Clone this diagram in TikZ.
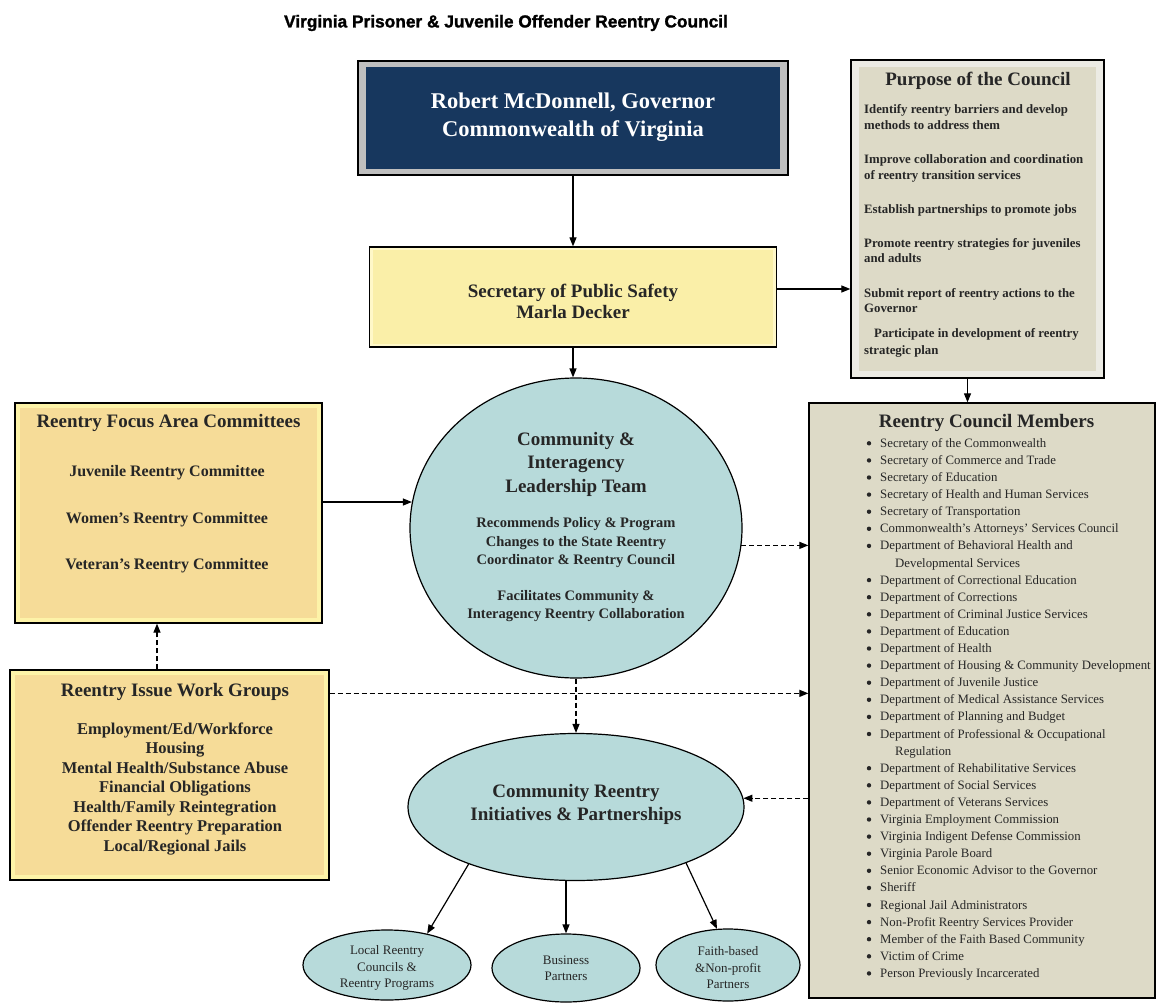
\documentclass[tikz,border=0pt]{standalone}
\usepackage{fontspec}
\setmainfont{Liberation Serif}
\newfontfamily\titlefont{Liberation Sans Bold}[FakeBold=1.5]
\usetikzlibrary{arrows.meta,shapes.geometric,calc}
\definecolor{navy}{HTML}{17375E}
\definecolor{govgray}{HTML}{BFBFBF}
\definecolor{secfill}{HTML}{FAEFA8}
\definecolor{secstrip}{HTML}{FFF8C8}
\definecolor{tanfill}{HTML}{F6DC98}
\definecolor{tanstrip}{HTML}{FDF3A8}
\definecolor{tealfill}{HTML}{B7DADA}
\definecolor{beige}{HTML}{DDDAC7}
\definecolor{beigestrip}{HTML}{ECEBE4}
\definecolor{txt}{HTML}{262626}
\newcommand\myfs[2]{\fontsize{#1}{#2}\selectfont}
\begin{document}
\begin{tikzpicture}[x=1pt,y=-1pt,
  box/.style={draw=black, line width=1.3pt, inner sep=0pt, rectangle},
  oval/.style={ellipse, draw=black, line width=1.2pt, fill=tealfill, inner sep=0pt},
  arr/.style={line width=1.2pt, -{Triangle[length=9pt,width=7pt]}},
  darr/.style={arr, dash pattern=on 5pt off 3pt},
  govtxt/.style={text=white, font=\myfs{22.5}{28}\bfseries, align=center, inner sep=0pt},
  headtxt/.style={text=txt, font=\myfs{19}{23.5}\bfseries, align=center, inner sep=0pt},
  subtxt/.style={text=txt, font=\myfs{16}{19.5}\bfseries, align=center, inner sep=0pt},
  bodytxt/.style={text=txt, font=\myfs{14.5}{18.5}\bfseries, align=center, inner sep=0pt},
  ptxt/.style={text=txt, font=\myfs{12.8}{16}\bfseries, inner sep=0pt, anchor=base west},
  mtxt/.style={text=txt, font=\myfs{12.8}{16}, inner sep=0pt, anchor=base west},
  smalltxt/.style={text=txt, font=\myfs{13}{16.5}, align=center, inner sep=0pt},
  bul/.style={circle, fill=txt, inner sep=0pt, minimum size=4.4pt}
]
\useasboundingbox (0,0) rectangle (1156,1003);
\fill[white] (0,0) rectangle (1156,1003);

% title
\node[font=\titlefont\myfs{17.3}{20}, inner sep=0pt] (title) at (506,23)
  {Virginia Prisoner \& Juvenile Offender Reentry Council};

% governor
\node[box, fill=govgray, minimum width=430, minimum height=114] (gov) at (573,118) {};
\fill[navy] ($(gov.north west)+(9,7)$) rectangle ($(gov.south east)+(-9,-7)$);
\node[govtxt] (govt) at (573,117) {Robert McDonnell, Governor\\Commonwealth of Virginia};

% secretary
\node[box, fill=secstrip, minimum width=407, minimum height=100] (sec) at (573,297) {};
\fill[secfill] ($(sec.north west)+(4,4)$) rectangle ($(sec.south east)+(-4,-4)$);
\node[headtxt, font=\myfs{19}{21}\bfseries] (sect) at (573,301) {Secretary of Public Safety\\Marla Decker};

% purpose
\node[box, fill=beigestrip, minimum width=253, minimum height=318] (purpose) at (977.5,219) {};
\fill[beige] ($(purpose.north west)+(9,8)$) rectangle ($(purpose.south east)+(-9,-8)$);
\node[headtxt] (purt) at (978,81) {Purpose of the Council};
\foreach \yy/\tx [count=\i] in {114/Identify reentry barriers and develop,
  130/methods to address them,
  164/Improve collaboration and coordination,
  180/of reentry transition services,
  214/Establish partnerships to promote jobs,
  247/Promote reentry strategies for juveniles,
  262/and adults,
  297/Submit report of reentry actions to the,
  312/Governor,
  337/{\hspace*{10pt}Participate in development of reentry},
  354/strategic plan}
  \node[ptxt] (pl\i) at (864,\yy) {\tx};

% focus committees
\node[box, fill=tanstrip, minimum width=307, minimum height=220] (focus) at (168.5,513) {};
\fill[tanfill] ($(focus.north west)+(6,6)$) rectangle ($(focus.south east)+(-6,-6)$);
\node[headtxt] (foct) at (168.5,423) {Reentry Focus Area Committees};
\node[subtxt] (foc1) at (167,473) {Juvenile Reentry Committee};
\node[subtxt] (foc2) at (167,520) {Women's Reentry Committee};
\node[subtxt] (foc3) at (167,566) {Veteran's Reentry Committee};

% work groups
\node[box, fill=tanstrip, minimum width=319, minimum height=210] (work) at (169.5,775) {};
\fill[tanfill] ($(work.north west)+(6,6)$) rectangle ($(work.south east)+(-6,-6)$);
\node[headtxt] (workt) at (175,692) {Reentry Issue Work Groups};
\node[subtxt, font=\myfs{16.5}{19.5}\bfseries] (workl) at (175,789)
  {Employment/Ed/Workforce\\Housing\\Mental Health/Substance Abuse\\Financial Obligations\\Health/Family Reintegration\\Offender Reentry Preparation\\Local/Regional Jails};

% leadership circle
\node[oval, minimum width=332, minimum height=300] (circ) at (576,528) {};
\node[headtxt] (circt) at (576,464) {Community \&\\Interagency\\Leadership Team};
\node[bodytxt] (circb1) at (576,543) {Recommends Policy \& Program\\Changes to the State Reentry\\Coordinator \& Reentry Council};
\node[bodytxt] (circb2) at (576,606) {Facilitates Community \&\\Interagency Reentry Collaboration};

% members
\node[box, fill=beige, minimum width=346, minimum height=595] (members) at (982,700.5) {};
\node[headtxt] (memt) at (986.5,423) {Reentry Council Members};
\foreach \tx/\bl [count=\i] in {
  Secretary of the Commonwealth/1,
  Secretary of Commerce and Trade/1,
  Secretary of Education/1,
  Secretary of Health and Human Services/1,
  Secretary of Transportation/1,
  Commonwealth's Attorneys' Services Council/1,
  Department of Behavioral Health and/1,
  Developmental Services/0,
  Department of Correctional Education/1,
  Department of Corrections/1,
  Department of Criminal Justice Services/1,
  Department of Education/1,
  Department of Health/1,
  Department of Housing \& Community Development/1,
  Department of Juvenile Justice/1,
  Department of Medical Assistance Services/1,
  Department of Planning and Budget/1,
  Department of Professional \& Occupational/1,
  Regulation/0,
  Department of Rehabilitative Services/1,
  Department of Social Services/1,
  Department of Veterans Services/1,
  Virginia Employment Commission/1,
  Virginia Indigent Defense Commission/1,
  Virginia Parole Board/1,
  Senior Economic Advisor to the Governor/1,
  Sheriff/1,
  Regional Jail Administrators/1,
  Non-Profit Reentry Services Provider/1,
  Member of the Faith Based Community/1,
  Victim of Crime/1,
  Person Previously Incarcerated/1}
{
  \pgfmathsetmacro\yy{447.3+17.1*(\i-1)}
  \ifnum\bl=1
    \node[mtxt] (m\i) at (880,\yy) {\tx};
    \node[bul] (mb\i) at (869,\yy-4) {};
  \else
    \node[mtxt] (m\i) at (895,\yy) {\tx};
  \fi
}

% community reentry
\node[oval, minimum width=336, minimum height=147] (cri) at (576,807) {};
\node[headtxt, font=\myfs{19}{23}\bfseries] (crit) at (576,804) {Community Reentry\\Initiatives \& Partnerships};

% small ellipses
\node[oval, minimum width=168, minimum height=70] (local) at (387,965) {};
\node[smalltxt] (localt) at (387,968) {Local Reentry\\Councils \&\\Reentry Programs};
\node[oval, minimum width=148, minimum height=68] (business) at (566,968) {};
\node[smalltxt] (businesst) at (566,968) {Business\\Partners};
\node[oval, minimum width=144, minimum height=72] (faith) at (728,965) {};
\node[smalltxt] (faitht) at (728,968) {Faith-based\\\&Non-profit\\Partners};

% connectors
\draw[arr] (gov.south) -- (sec.north);
\draw[arr] (sec.south) -- (sec.south |- circ.north);
\coordinate (sp) at ($(sec.east)+(0,-8)$);
\draw[arr] (sp) -- (sp -| purpose.west);
\coordinate (pm) at ($(purpose.south)+(-10,0)$);
\draw[arr] (pm) -- (pm |- members.north);
\draw[arr] (focus.east |- circ.171) -- (circ.171);
\coordinate (wf) at ($(work.north)+(-12.5,0)$);
\draw[darr] (wf) -- (wf |- focus.south);
\coordinate (wd) at ($(work.north east)+(0,24)$);
\draw[darr] (wd) -- (wd -| members.west);
\draw[darr] (circ.south) -- (cri.north);
\draw[darr] (circ.-6) -- (circ.-6 -| members.west);
\draw[darr] (cri.3 -| members.west) -- (cri.3);
\draw[arr] (cri.208.5) -- (local.38);
\draw[arr] (business.north |- cri.south) -- (business.north);
\draw[arr] (cri.-27.4) -- (faith.107.4);
\end{tikzpicture}
\end{document}
